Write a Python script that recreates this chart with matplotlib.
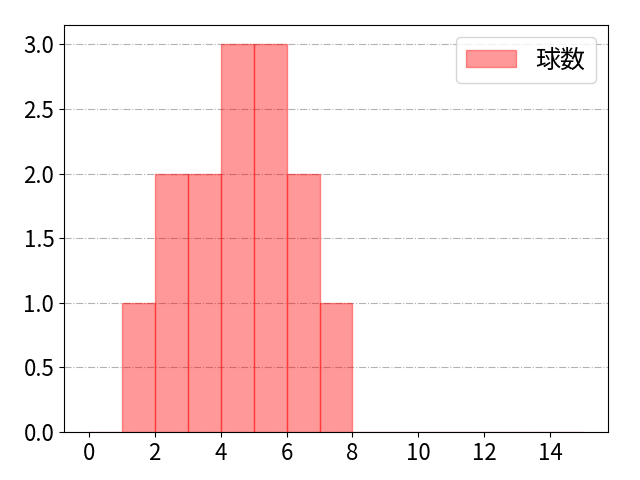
import numpy as np
import matplotlib
matplotlib.use("Agg")
import matplotlib.pyplot as plt

plt.rcParams['font.family'] = ['Noto Sans CJK JP', 'DejaVu Sans']

# ビンの左端と各ビンの球数
bin_edges = list(range(0, 16))
counts = [0, 1, 2, 2, 3, 3, 2, 1, 0, 0, 0, 0, 0, 0, 0]
label = "球数"

fig, ax = plt.subplots(figsize=(6.4, 4.8), dpi=100)
ax.hist(bin_edges[:-1], bins=bin_edges, weights=counts,
        color="red", alpha=0.4, edgecolor="red", label=label)
ax.grid(axis="y", linestyle="-.", color="gray", alpha=0.6)
ax.set_axisbelow(True)
ax.set_xticks(range(0, 16, 2))
ax.tick_params(labelsize=16)
ax.legend(fontsize=18, loc="upper right")
fig.subplots_adjust(left=0.1, right=0.95, top=0.948, bottom=0.1)
fig.savefig("out.png")
